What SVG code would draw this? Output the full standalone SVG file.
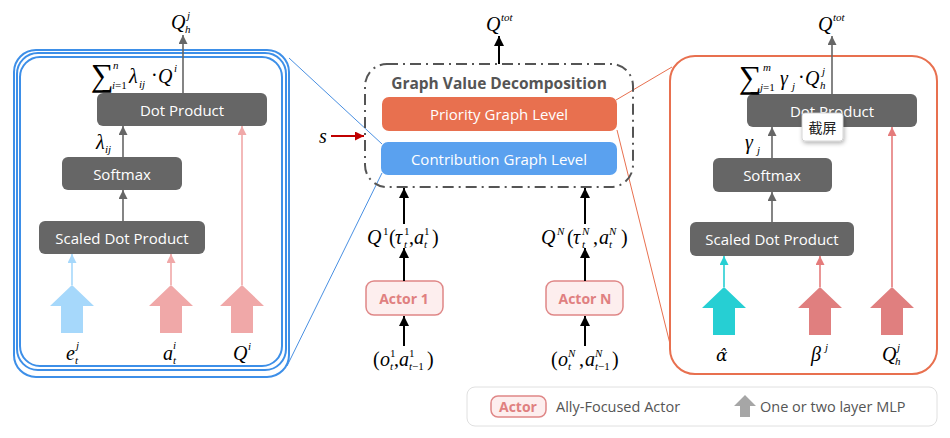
<svg xmlns="http://www.w3.org/2000/svg" width="950" height="438" viewBox="0 0 950 438">
<style>
.bt{font-family:"Open Sans","Liberation Sans",sans-serif;font-size:15px;fill:#fff;text-anchor:middle;dominant-baseline:central}
.gb{fill:#666666}
.mi{font-family:"Liberation Serif",serif;font-style:italic;font-size:20px;fill:#000}
.mr{font-family:"Liberation Serif",serif;font-size:20px;fill:#000}
.ss{font-family:"Liberation Serif",serif;font-style:italic;font-size:11px;fill:#000}
.sr{font-family:"Liberation Serif",serif;font-size:11px;fill:#000}
.sum{font-family:"Liberation Serif","DejaVu Serif",serif;font-size:32px;fill:#000}
.ga{stroke:#666;stroke-width:1.6;fill:none;marker-end:url(#mg)}
.ka{stroke:#000;stroke-width:2;fill:none;marker-end:url(#mk)}
.actor{fill:#fdeeee;stroke:#df8787;stroke-width:1.5}
.at{font-family:"Open Sans","Liberation Sans",sans-serif;font-weight:bold;font-size:14px;fill:#e08080;text-anchor:middle;dominant-baseline:central}
.lg{font-family:"Open Sans","Liberation Sans",sans-serif;font-size:14.5px;fill:#555;dominant-baseline:central}
</style>
<defs>
<marker id="mg" viewBox="0 0 10 10" refX="10" refY="5" markerWidth="10" markerHeight="9" markerUnits="userSpaceOnUse" orient="auto"><path d="M0,0L10,5L0,10z" fill="#666"/></marker>
<marker id="mk" viewBox="0 0 10 10" refX="10" refY="5" markerWidth="12" markerHeight="10" markerUnits="userSpaceOnUse" orient="auto"><path d="M0,0L10,5L0,10z" fill="#000"/></marker>
<marker id="mr" viewBox="0 0 10 10" refX="10" refY="5" markerWidth="11" markerHeight="9" markerUnits="userSpaceOnUse" orient="auto"><path d="M0,0L10,5L0,10z" fill="#c00000"/></marker>
<marker id="mb" viewBox="0 0 10 10" refX="10" refY="5" markerWidth="9" markerHeight="9" markerUnits="userSpaceOnUse" orient="auto"><path d="M0,0L10,5L0,10z" fill="#a6d8fb"/></marker>
<marker id="mp" viewBox="0 0 10 10" refX="10" refY="5" markerWidth="9" markerHeight="9" markerUnits="userSpaceOnUse" orient="auto"><path d="M0,0L10,5L0,10z" fill="#f0a8a8"/></marker>
<marker id="mp2" viewBox="0 0 10 10" refX="10" refY="5" markerWidth="9" markerHeight="9" markerUnits="userSpaceOnUse" orient="auto"><path d="M0,0L10,5L0,10z" fill="#e57b7b"/></marker>
<marker id="mc" viewBox="0 0 10 10" refX="10" refY="5" markerWidth="9" markerHeight="9" markerUnits="userSpaceOnUse" orient="auto"><path d="M0,0L10,5L0,10z" fill="#26cfd3"/></marker>
<path id="big" d="M0,0L22,21L11,21L11,48L-11,48L-11,21L-22,21z"/>
<filter id="sh" x="-30%" y="-30%" width="160%" height="160%"><feDropShadow dx="1" dy="2" stdDeviation="2" flood-color="#000" flood-opacity="0.3"/></filter>
</defs>

<!-- zoom lines -->
<g id="zoom-lines" fill="none" stroke-width="1">
<line x1="289" y1="58" x2="382" y2="144" stroke="#4a90e2"/>
<line x1="287" y1="366" x2="382" y2="173" stroke="#4a90e2"/>
<line x1="616" y1="100" x2="672" y2="67" stroke="#e8704f"/>
<line x1="617" y1="130" x2="671" y2="348" stroke="#e8704f"/>
</g>

<!-- left panel -->
<g id="left-panel">
<rect x="14" y="50" width="275" height="327" rx="22" fill="#fff" stroke="#3d8fe8" stroke-width="2"/>
<rect x="17" y="53" width="269" height="317" rx="21" fill="#fff" stroke="#3d8fe8" stroke-width="2"/>
<rect x="20" y="57" width="262" height="309" rx="20" fill="#fff" stroke="#3d8fe8" stroke-width="2"/>
</g>
<g id="l-dot"><rect class="gb" x="97" y="93" width="170" height="33" rx="6"/><text class="bt" x="182" y="110">Dot Product</text></g>
<g id="l-softmax"><rect class="gb" x="62" y="157" width="120" height="33" rx="6"/><text class="bt" x="122" y="174">Softmax</text></g>
<g id="l-sdp"><rect class="gb" x="39" y="221" width="166" height="33" rx="6"/><text class="bt" x="122" y="238">Scaled Dot Product</text></g>
<g id="l-mlp">
<use href="#big" x="72" y="285" fill="#a6d8fb"/>
<use href="#big" x="171" y="285" fill="#f0a8a8"/>
<use href="#big" x="242" y="285" fill="#f0a8a8"/>
</g>
<g id="l-labels">
<text class="mi" x="171" y="29">Q</text><text class="ss" x="187" y="19">j</text><text class="ss" x="185" y="33">h</text>
<text class="sum" x="91" y="86">∑</text><text class="sr" x="112" y="89"><tspan font-style="italic">i</tspan>=1</text><text class="ss" x="113" y="69">n</text>
<text class="mi" x="129" y="83">λ</text><text class="ss" x="139" y="88">ij</text><text class="mr" x="151" y="82">·</text>
<text class="mi" x="158" y="83">Q</text><text class="ss" x="174" y="72">i</text>
<text class="mi" x="96" y="149" font-size="18">λ</text><text class="ss" x="105" y="153">ij</text>
<text class="mi" x="66" y="360">e</text><text class="ss" x="76" y="349">j</text><text class="ss" x="75" y="364">t</text>
<text class="mi" x="163" y="360">a</text><text class="ss" x="173" y="349">i</text><text class="ss" x="173" y="364">t</text>
<text class="mi" x="233" y="360">Q</text><text class="ss" x="248" y="350">i</text>
</g>

<!-- center -->
<g id="gvd">
<rect x="365" y="64" width="268" height="123" rx="22" fill="none" stroke="#555" stroke-width="2" stroke-dasharray="11 5 2 5"/>
<text x="499" y="83" font-family="Open Sans, Liberation Sans, sans-serif" font-weight="bold" font-size="15.5" fill="#555" text-anchor="middle" dominant-baseline="central">Graph Value Decomposition</text>
</g>
<g id="priority"><rect x="382" y="97" width="235" height="34" rx="7" fill="#e8704f"/><text class="bt" x="499" y="114">Priority Graph Level</text></g>
<g id="contribution"><rect x="381" y="142" width="236" height="33" rx="7" fill="#5aa1ef"/><text class="bt" x="499" y="159">Contribution Graph Level</text></g>
<g id="actor1"><rect class="actor" x="366" y="281" width="77" height="34" rx="8"/><text class="at" x="404" y="298">Actor 1</text></g>
<g id="actorN"><rect class="actor" x="546" y="281" width="77" height="34" rx="8"/><text class="at" x="585" y="298">Actor N</text></g>
<g id="c-labels">
<text class="mi" x="486" y="31">Q</text><text class="ss" x="501" y="21">tot</text>
<text class="mi" x="319" y="143">s</text>
<text class="mi" x="367" y="244">Q</text><text class="sr" x="383" y="235">1</text><text class="mr" x="389" y="244">(</text>
<text class="mi" x="395" y="244">τ</text><text class="sr" x="404" y="235">1</text><text class="ss" x="404" y="248">t</text><text class="mr" x="409" y="244">,</text>
<text class="mi" x="414" y="244">a</text><text class="sr" x="424" y="235">1</text><text class="ss" x="424" y="248">t</text><text class="mr" x="432" y="244">)</text>
<text class="mi" x="541" y="244">Q</text><text class="ss" x="557" y="235">N</text><text class="mr" x="567" y="244">(</text>
<text class="mi" x="573" y="244">τ</text><text class="ss" x="582" y="235">N</text><text class="ss" x="582" y="248">t</text><text class="mr" x="593" y="244">,</text>
<text class="mi" x="599" y="244">a</text><text class="ss" x="609" y="235">N</text><text class="ss" x="609" y="248">t</text><text class="mr" x="621" y="244">)</text>
<text class="mr" x="373" y="366">(</text><text class="mi" x="380" y="366">o</text><text class="sr" x="390" y="357">1</text><text class="ss" x="390" y="370">t</text><text class="mr" x="394" y="366">,</text>
<text class="mi" x="399" y="366">a</text><text class="sr" x="409" y="357">1</text><text class="sr" x="409" y="370"><tspan font-style="italic">t</tspan>−1</text><text class="mr" x="427" y="366">)</text>
<text class="mr" x="551" y="366">(</text><text class="mi" x="558" y="366">o</text><text class="ss" x="568" y="357">N</text><text class="ss" x="568" y="370">t</text><text class="mr" x="579" y="366">,</text>
<text class="mi" x="585" y="366">a</text><text class="ss" x="595" y="357">N</text><text class="sr" x="595" y="370"><tspan font-style="italic">t</tspan>−1</text><text class="mr" x="612" y="366">)</text>
</g>

<!-- right panel -->
<g id="right-panel"><rect x="670" y="56" width="267" height="318" rx="25" fill="#fff" stroke="#e8704f" stroke-width="2"/></g>
<g id="r-dot"><rect class="gb" x="747" y="94" width="170" height="33" rx="6"/><text class="bt" x="832" y="111">Dot Product</text></g>
<g id="r-softmax"><rect class="gb" x="713" y="158" width="119" height="34" rx="6"/><text class="bt" x="772" y="175">Softmax</text></g>
<g id="r-sdp"><rect class="gb" x="690" y="222" width="164" height="34" rx="6"/><text class="bt" x="772" y="239">Scaled Dot Product</text></g>
<g id="r-mlp">
<use href="#big" x="724" y="287" fill="#26cfd3"/>
<use href="#big" x="820" y="287" fill="#e07f7f"/>
<use href="#big" x="892" y="287" fill="#e07f7f"/>
</g>
<g id="r-labels">
<text class="mi" x="818" y="31">Q</text><text class="ss" x="833" y="21">tot</text>
<text class="sum" x="739" y="88">∑</text><text class="sr" x="760" y="91"><tspan font-style="italic">j</tspan>=1</text><text class="ss" x="763" y="71">m</text>
<text class="mi" x="780" y="85">γ</text><text class="ss" x="792" y="90">j</text><text class="mr" x="798" y="84">·</text>
<text class="mi" x="805" y="85">Q</text><text class="ss" x="822" y="75">j</text><text class="ss" x="820" y="89">h</text>
<text class="mi" x="745" y="149" font-size="18">γ</text><text class="ss" x="757" y="154">j</text>
<text x="716" y="361" font-family="DejaVu Serif, serif" font-style="italic" font-size="17">α̂</text>
<text class="mi" x="811" y="361">β</text><text class="ss" x="825" y="351">j</text>
<text class="mi" x="882" y="361">Q</text><text class="ss" x="897" y="351">j</text><text class="ss" x="895" y="365">h</text>
</g>

<!-- connectors -->
<g id="connectors">
<line class="ga" x1="183" y1="93" x2="183" y2="35"/>
<line class="ga" x1="123" y1="157" x2="123" y2="126"/>
<line class="ga" x1="123" y1="221" x2="123" y2="190"/>
<line x1="72" y1="285" x2="72" y2="254" stroke="#a6d8fb" stroke-width="1.6" marker-end="url(#mb)"/>
<line x1="171" y1="285" x2="171" y2="254" stroke="#f0a8a8" stroke-width="1.6" marker-end="url(#mp)"/>
<line x1="242" y1="285" x2="242" y2="126" stroke="#f0a8a8" stroke-width="1.6" marker-end="url(#mp)"/>
<line class="ka" x1="499" y1="64" x2="499" y2="36"/>
<line x1="331" y1="136" x2="364" y2="136" stroke="#c00000" stroke-width="2" marker-end="url(#mr)"/>
<line class="ka" x1="404" y1="224" x2="404" y2="188"/>
<line class="ka" x1="585" y1="224" x2="585" y2="188"/>
<line class="ka" x1="404" y1="281" x2="404" y2="248"/>
<line class="ka" x1="585" y1="281" x2="585" y2="248"/>
<line class="ka" x1="404" y1="346" x2="404" y2="316"/>
<line class="ka" x1="585" y1="346" x2="585" y2="316"/>
<line class="ga" x1="832" y1="94" x2="832" y2="36"/>
<line class="ga" x1="772" y1="158" x2="772" y2="127"/>
<line class="ga" x1="772" y1="222" x2="772" y2="192"/>
<line x1="724" y1="287" x2="724" y2="256" stroke="#26cfd3" stroke-width="1.6" marker-end="url(#mc)"/>
<line x1="820" y1="287" x2="820" y2="256" stroke="#e57b7b" stroke-width="1.6" marker-end="url(#mp2)"/>
<line x1="892" y1="287" x2="892" y2="127" stroke="#e57b7b" stroke-width="1.6" marker-end="url(#mp2)"/>
</g>

<!-- tooltip -->
<g id="tooltip"><rect x="802" y="113" width="41" height="28" rx="3" fill="#fff" stroke="#ccc" stroke-width="0.8" filter="url(#sh)"/><text x="822.5" y="127" font-family="Noto Sans CJK SC, sans-serif" font-size="14" fill="#222" text-anchor="middle" dominant-baseline="central">截屏</text></g>

<!-- legend -->
<g id="legend">
<rect x="467" y="387" width="470" height="39" rx="8" fill="#fff" stroke="#e0e0e0" stroke-width="1"/>
<rect class="actor" x="491" y="396" width="55" height="21" rx="7"/>
<text class="at" x="518" y="406.5" font-size="12">Actor</text>
<text class="lg" x="556" y="406.5">Ally-Focused Actor</text>
<path d="M745,395L756,406L750,406L750,417L740,417L740,406L734,406z" fill="#a6a6a6"/>
<text class="lg" x="760" y="406.5">One or two layer MLP</text>
</g>
</svg>
